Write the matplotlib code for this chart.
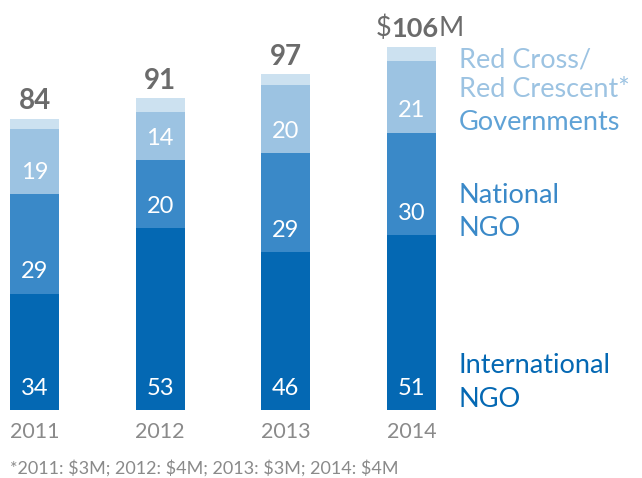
import matplotlib
matplotlib.use("Agg")
import matplotlib.pyplot as plt

plt.rcParams['font.family'] = ['Lato', 'DejaVu Sans']
plt.rcParams['text.parse_math'] = False

years = ["2011", "2012", "2013", "2014"]
international_ngo = [34, 53, 46, 51]
national_ngo = [29, 20, 29, 30]
governments = [19, 14, 20, 21]
red_cross = [3, 4, 3, 4]
totals = [84, 91, 97, 106]
footnote = "*2011: $3M; 2012: $4M; 2013: $3M; 2014: $4M"

c_int = "#0468b3"
c_nat = "#3a89c8"
c_gov = "#9cc3e2"
c_rc = "#cce1f0"
grey = "#6b6b6b"
light_grey = "#8a8a8a"

fig = plt.figure(figsize=(6.42, 4.78), dpi=100)
ax = fig.add_axes([0, 0, 1, 1])
ax.set_xlim(-0.2745, 4.833)
ax.set_ylim(-19.86, 119.7)
ax.axis("off")

x = list(range(len(years)))
w = 0.39
series = [(international_ngo, c_int), (national_ngo, c_nat),
          (governments, c_gov), (red_cross, c_rc)]
bottom = [0] * len(years)
for vals, col in series:
    ax.bar(x, vals, w, bottom=bottom, color=col, linewidth=0)
    if vals is not red_cross:
        for i, v in enumerate(vals):
            ax.text(x[i], bottom[i] + 6.4, str(v), ha="center", va="center",
                    color="white", fontsize=17)
    bottom = [b + v for b, v in zip(bottom, vals)]

for i, yr in enumerate(years):
    ax.text(x[i], -6.4, yr, ha="center", va="center", color=light_grey, fontsize=15.5)

# totals above the bars
for i in range(len(years) - 1):
    ax.text(x[i], bottom[i] + 1.4, str(totals[i]), ha="center", va="bottom",
            color=grey, fontsize=20, fontweight="bold")

# last total with currency styling
fig.canvas.draw()
r = fig.canvas.get_renderer()
parts = [("$", "normal"), (str(totals[-1]), "bold"), ("M", "normal")]
tmp = [ax.text(0, 0, s, fontsize=19.5, fontweight=fw) for s, fw in parts]
widths = [t.get_window_extent(r).width for t in tmp]
for t in tmp:
    t.remove()
total_w = sum(widths)
xc = ax.transData.transform((x[-1], 0))[0] + 8
start = xc - total_w / 2
y_px = ax.transData.transform((0, bottom[-1] + 1.6))[1]
cur = start
for (s, fw), wd in zip(parts, widths):
    fig.text(cur / fig.dpi / fig.get_figwidth(), y_px / fig.dpi / fig.get_figheight(),
             s, fontsize=19.5, fontweight=fw, color=grey, ha="left", va="bottom")
    cur += wd


def px_to_y(py):
    return (478 - py - 68) / 3.424


# category labels beside the last bar
lx = 3.377
lfs = 19.5
ax.text(lx, px_to_y(68), "Red Cross/", color=c_gov, fontsize=lfs, va="baseline")
ax.text(lx, px_to_y(97), "Red Crescent*", color=c_gov, fontsize=lfs, va="baseline")
ax.text(lx, px_to_y(130), "Governments", color="#5fa2d6", fontsize=lfs, va="baseline")
ax.text(lx, px_to_y(203), "National", color=c_nat, fontsize=lfs, va="baseline")
ax.text(lx, px_to_y(236), "NGO", color=c_nat, fontsize=lfs, va="baseline")
ax.text(lx, px_to_y(373), "International", color=c_int, fontsize=lfs, va="baseline")
ax.text(lx, px_to_y(407), "NGO", color=c_int, fontsize=lfs, va="baseline")

fig.text(10 / 642, 1 - 468 / 478, footnote, color=light_grey, fontsize=13,
         ha="left", va="center")

fig.savefig("out.png", dpi=100)
